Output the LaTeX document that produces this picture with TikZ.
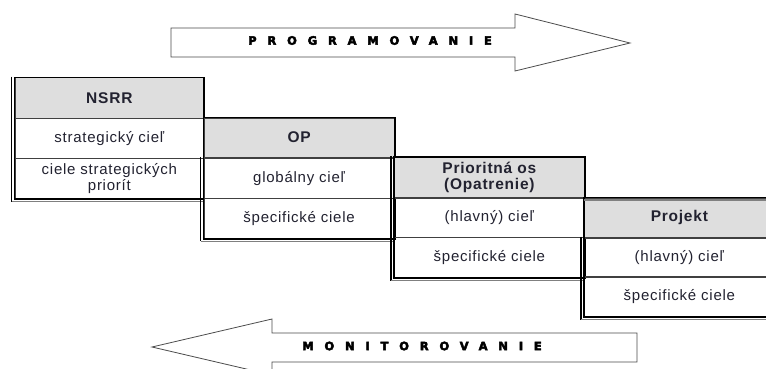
\documentclass[tikz,border=0pt]{standalone}
\usepackage{fontspec}
\setmainfont{Liberation Sans}
\newfontfamily\cellf[LetterSpace=5]{Liberation Sans}
\newfontfamily\arrf{DejaVu Sans Bold}[LetterSpace=94, FakeBold=4]
\definecolor{hdr}{HTML}{DEDEDE}
\definecolor{txt}{HTML}{222230}
\tikzset{
 cell/.style={draw=black!75, line width=0.7pt, anchor=north west, inner sep=0pt, align=center, text=txt,
   font=\cellf\fontsize{15}{16.5}\selectfont},
 head/.style={cell, fill=hdr, font=\cellf\bfseries\fontsize{15.5}{16.5}\selectfont},
 frame/.style={draw=black, line width=1.9pt},
 shadowl/.style={draw=black, line width=1.3pt},
 shadowb/.style={draw=black!50, line width=1.1pt},
 arrowline/.style={draw=black!70, line width=0.8pt, fill=white},
 arrowtext/.style={font=\arrf\fontsize{11.5}{12}\selectfont, inner sep=0pt, anchor=west, text=black}
}
\begin{document}
\begin{tikzpicture}[x=1pt,y=-1pt]
\useasboundingbox (0,0) rectangle (766,369);
\clip (0,0) rectangle (766,369);
\fill[white] (0,0) rectangle (766,369);

% top arrow
\draw[arrowline] (171,28) -- (515,28) -- (515,14) -- (630,43) -- (515,71) -- (515,57) -- (171,57) -- cycle;
\node[arrowtext] (prog) at (248,40.5) {PROGRAMOVANIE};

% bottom arrow
\draw[arrowline] (637,333) -- (272,333) -- (272,319) -- (152,347) -- (272,375) -- (272,362) -- (637,362) -- cycle;
\node[arrowtext] (mon) at (302,346) {MONITOROVANIE};

% table 1
\node[head, minimum width=189, minimum height=40] (nsrr) at (14.5,77.5) {NSRR};
\node[cell, minimum width=189, minimum height=39.5] (n2) at (nsrr.south west) {strategický cieľ};
\node[cell, minimum width=189, minimum height=40] (n3) at (n2.south west) {ciele strategických\\priorít};
\draw[frame] (nsrr.north west) rectangle (n3.south east);
\draw[shadowl] ([xshift=-3pt,yshift=0.8pt]nsrr.north west) -- ([xshift=-3pt,yshift=-2.5pt]n3.south west);
\draw[shadowb] ([xshift=-3pt,yshift=-2.5pt]n3.south west) -- ([yshift=-2.5pt]n3.south east);

% table 2
\node[head, minimum width=190.5, minimum height=39.5] (op) at (203.5,117.5) {OP};
\node[cell, minimum width=190.5, minimum height=40] (o2) at (op.south west) {globálny cieľ};
\node[cell, minimum width=190.5, minimum height=39.5] (o3) at (o2.south west) {špecifické ciele};
\draw[frame] (op.north west) rectangle (o3.south east);
\draw[shadowl] ([xshift=-3pt,yshift=0.8pt]o2.north west) -- ([xshift=-3pt,yshift=-2.5pt]o3.south west);
\draw[shadowb] ([xshift=-3pt,yshift=-2.5pt]o3.south west) -- ([yshift=-2.5pt]o3.south east);

% table 3
\node[head, minimum width=190, minimum height=40] (po) at (394,157) {Prioritná os\\(Opatrenie)};
\node[cell, minimum width=190, minimum height=39] (p2) at (po.south west) {(hlavný) cieľ};
\node[cell, minimum width=190, minimum height=40] (p3) at (p2.south west) {špecifické ciele};
\draw[frame] (po.north west) rectangle (p3.south east);
\draw[shadowl] ([xshift=-3pt,yshift=0.8pt]po.north west) -- ([xshift=-3pt,yshift=-2.5pt]p3.south west);
\draw[shadowb] ([xshift=-3pt,yshift=-2.5pt]p3.south west) -- ([yshift=-2.5pt]p3.south east);

% table 4
\node[head, minimum width=190, minimum height=39.5] (pr) at (584,197.5) {Projekt};
\node[cell, minimum width=190, minimum height=38.5] (r2) at (pr.south west) {(hlavný) cieľ};
\node[cell, minimum width=190, minimum height=39.5] (r3) at (r2.south west) {špecifické ciele};
\draw[frame] (pr.north west) rectangle (r3.south east);
\draw[shadowb] ([yshift=-2.5pt]pr.north west) -- ([yshift=-2.5pt]pr.north east);
\draw[shadowl] ([xshift=-3pt,yshift=0.8pt]r2.north west) -- ([xshift=-3pt,yshift=-2.5pt]r3.south west);
\draw[shadowb] ([xshift=-3pt,yshift=-2.5pt]r3.south west) -- ([yshift=-2.5pt]r3.south east);
\end{tikzpicture}
\end{document}
